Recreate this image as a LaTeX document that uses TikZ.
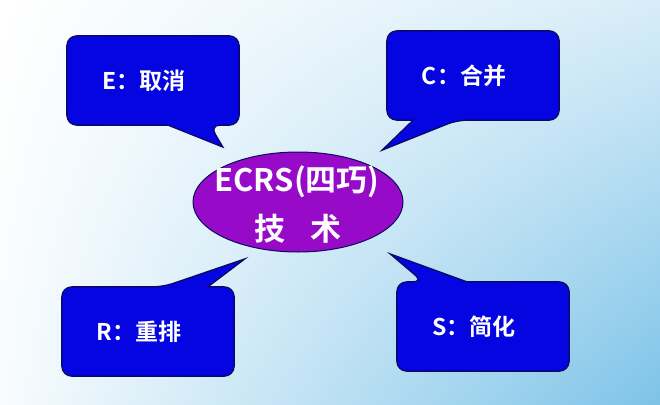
\documentclass[tikz,border=0pt]{standalone}
\usepackage{fontspec}
\newfontfamily\cjk{Noto Sans CJK SC}[BoldFont={* Bold}]
\usetikzlibrary{calc,shapes.geometric,shadings}
\definecolor{boxblue}{RGB}{5,5,225}
\definecolor{boxedge}{RGB}{10,10,90}
\definecolor{ovalpurple}{RGB}{150,10,200}
\definecolor{skyblue}{RGB}{125,195,232}
\tikzset{line cap=round,line join=round}
\tikzset{
    frame/.style={minimum width=172pt,minimum height=89pt,inner sep=0pt},
    bubble/.style={fill=boxblue,draw=boxedge,line width=1.2pt},
    lbl/.style={text=white,font=\cjk\bfseries\fontsize{23}{25}\selectfont},
    oval/.style={ellipse,fill=ovalpurple,draw=boxedge,line width=1pt,minimum width=210pt,minimum height=100pt}
}

\begin{document}
\begin{tikzpicture}[x=1pt,y=-1pt]
    \shade[upper left=white,upper right=skyblue!30,lower left=white!95!skyblue,lower right=skyblue] (0,0) rectangle (660,404);
    \useasboundingbox (0,0) rectangle (660,404);
    % centre oval
    \node[oval,name=O] at (298,202) {};
    \node[name=O-top,text=white,font=\cjk\bfseries\fontsize{31}{34}\selectfont] at (297,182) {ECRS(四巧)};
    \node[name=O-bot,text=white,font=\cjk\bfseries\fontsize{31}{34}\selectfont] at (298,229) {技\hspace{0.8em}术};
    % four frames
    \node[frame,name=E] at (153,80.5) {};
    \node[frame,name=C] at (473,75.5) {};
    \node[frame,name=R] at (148,331.5) {};
    \node[frame,name=S] at (483,326.5) {};
    \begin{scope}[rounded corners=10pt]
    % tails below
    \draw[bubble] (E.north) -- (E.north east) -- (E.south east) -- ($(E.south)+(57,0)$)
        [sharp corners] -- ($(E.south)+(70,22)$) -- ($(E.south)+(15,0)$)
        [rounded corners=10pt] -- (E.south west) -- (E.north west) -- cycle;
    \draw[bubble] (C.north) -- (C.north east) -- (C.south east) -- ($(C.south)+(-16,0)$)
        [sharp corners] -- ($(C.south)+(-91,30)$) -- ($(C.south)+(-60,0)$)
        [rounded corners=10pt] -- (C.south west) -- (C.north west) -- cycle;
    % tails above
    \draw[bubble] (R.south) -- (R.south west) -- (R.north west) -- ($(R.north)+(15,0)$)
        [sharp corners] -- ($(R.north)+(97,-28)$) -- ($(R.north)+(60,0)$)
        [rounded corners=10pt] -- (R.north east) -- (R.south east) -- cycle;
    \draw[bubble] (S.south) -- (S.south west) -- (S.north west) -- ($(S.north)+(-60,0)$)
        [sharp corners] -- ($(S.north)+(-93,-28)$) -- ($(S.north)+(-16,0)$)
        [rounded corners=10pt] -- (S.north east) -- (S.south east) -- cycle;
    \end{scope}
    \foreach \f/\t in {E/E：取消,C/C：合并,R/R：重排,S/S：简化}{%
    \node[lbl,name=\f-text] at ($(\f.center)+(-9,0)$) {\t};
    }
\end{tikzpicture}
\end{document}
